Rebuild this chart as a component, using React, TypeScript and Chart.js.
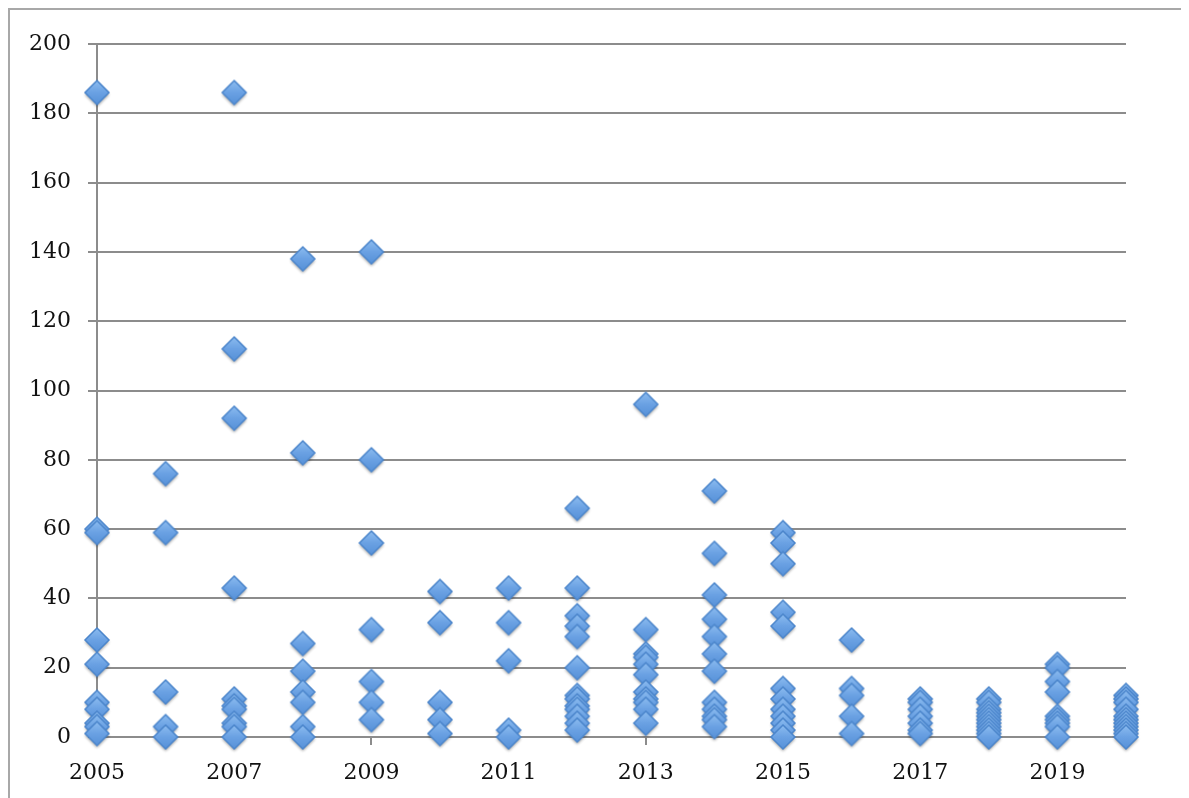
import React, { useEffect, useRef } from "react";
import { Chart, registerables } from "chart.js";

Chart.register(...registerables);

const years = [2005, 2006, 2007, 2008, 2009, 2010, 2011, 2012, 2013, 2014, 2015, 2016, 2017, 2018, 2019, 2020];
const v2005 = [186, 60, 59, 28, 21, 10, 8, 4, 3, 1];
const v2006 = [76, 59, 13, 3, 0];
const v2007 = [186, 112, 92, 43, 11, 9, 8, 4, 3, 0];
const v2008 = [138, 82, 27, 19, 13, 10, 3, 0];
const v2009 = [140, 80, 56, 31, 16, 10, 5];
const v2010 = [42, 33, 10, 5, 1];
const v2011 = [43, 33, 22, 2, 0];
const v2012 = [66, 43, 35, 32, 29, 20, 12, 11, 9, 8, 6, 4, 2];
const v2013 = [96, 31, 24, 23, 21, 18, 13, 11, 10, 8, 4];
const v2014 = [71, 53, 41, 34, 29, 24, 19, 10, 8, 6, 5, 3];
const v2015 = [59, 56, 50, 36, 32, 14, 11, 8, 6, 4, 2, 0];
const v2016 = [28, 14, 12, 6, 1];
const v2017 = [11, 10, 8, 6, 4, 2, 1];
const v2018 = [11, 10, 8, 7, 6, 5, 4, 3, 2, 1, 0];
const v2019 = [21, 20, 16, 13, 6, 5, 4, 3, 0];
const v2020 = [12, 11, 10, 8, 6, 5, 4, 3, 2, 1, 0];
const valuesByYear = [v2005, v2006, v2007, v2008, v2009, v2010, v2011, v2012, v2013, v2014, v2015, v2016, v2017, v2018, v2019, v2020];

const xTickLabels = [2005, 2007, 2009, 2011, 2013, 2015, 2017, 2019];
const yTickLabels = [0, 20, 40, 60, 80, 100, 120, 140, 160, 180, 200];

function makeDiamond(): HTMLCanvasElement {
  const size = 36;
  const c = document.createElement("canvas");
  c.width = size;
  c.height = size;
  const ctx = c.getContext("2d")!;
  const cx = size / 2;
  const cy = size / 2;
  const r = 12;
  const path = () => {
    ctx.beginPath();
    ctx.moveTo(cx, cy - r);
    ctx.lineTo(cx + r, cy);
    ctx.lineTo(cx, cy + r);
    ctx.lineTo(cx - r, cy);
    ctx.closePath();
  };
  ctx.save();
  ctx.shadowColor = "rgba(0,0,0,0.4)";
  ctx.shadowBlur = 3;
  ctx.shadowOffsetY = 2;
  const g = ctx.createLinearGradient(0, cy - r, 0, cy + r);
  g.addColorStop(0, "#8cbcf0");
  g.addColorStop(0.5, "#6aa1e3");
  g.addColorStop(1, "#5791d8");
  path();
  ctx.fillStyle = g;
  ctx.fill();
  ctx.restore();
  path();
  ctx.lineWidth = 1.5;
  ctx.strokeStyle = "#4c86cc";
  ctx.stroke();
  return c;
}

export default function App() {
  const ref = useRef<HTMLCanvasElement | null>(null);

  useEffect(() => {
    if (!ref.current) return;
    const points: { x: number; y: number }[] = [];
    years.forEach((yr, i) => {
      valuesByYear[i].forEach((v) => points.push({ x: yr, y: v }));
    });
    const font = { family: "'DejaVu Serif', serif", size: 22 };
    const chart = new Chart(ref.current, {
      type: "scatter",
      data: {
        datasets: [
          {
            data: points,
            pointStyle: makeDiamond() as any,
            pointRadius: 12,
            pointHoverRadius: 12,
            clip: false as any,
          },
        ],
      },
      options: {
        animation: false,
        responsive: false,
        maintainAspectRatio: false,
        layout: { padding: { left: 0, right: 61, top: 34, bottom: 0 } },
        plugins: { legend: { display: false }, tooltip: { enabled: false } },
        scales: {
          x: {
            type: "linear",
            min: 2005,
            max: 2020,
            afterBuildTicks: (scale: any) => {
              scale.ticks = xTickLabels.map((v) => ({ value: v }));
            },
            afterFit: (scale: any) => {
              scale.height = 61;
            },
            ticks: {
              font,
              color: "#111",
              padding: 15,
              maxRotation: 0,
              autoSkip: false,
              callback: (v: any) => String(v),
            },
            grid: {
              display: true,
              drawOnChartArea: false,
              drawTicks: true,
              tickLength: 8,
              color: "#8c8c8c",
              lineWidth: 2,
            },
            border: { display: false },
          },
          y: {
            type: "linear",
            min: 0,
            max: 200,
            afterBuildTicks: (scale: any) => {
              scale.ticks = yTickLabels.map((v) => ({ value: v }));
            },
            afterFit: (scale: any) => {
              scale.width = 87;
            },
            ticks: { font, color: "#111", padding: 17 },
            grid: { color: "#8c8c8c", lineWidth: 2, tickLength: 9 },
            border: { display: true, color: "#8c8c8c", width: 2 },
          },
        },
      },
    });
    return () => chart.destroy();
  }, []);

  return (
    <div
      style={{
        width: 1177,
        height: 790,
        borderTop: "2px solid #a8a8a8",
        borderLeft: "2px solid #a8a8a8",
        borderRight: "2px solid #a8a8a8",
        background: "#fff",
      }}
    >
      <canvas ref={ref} width={1177} height={788} style={{ display: "block" }} />
    </div>
  );
}
